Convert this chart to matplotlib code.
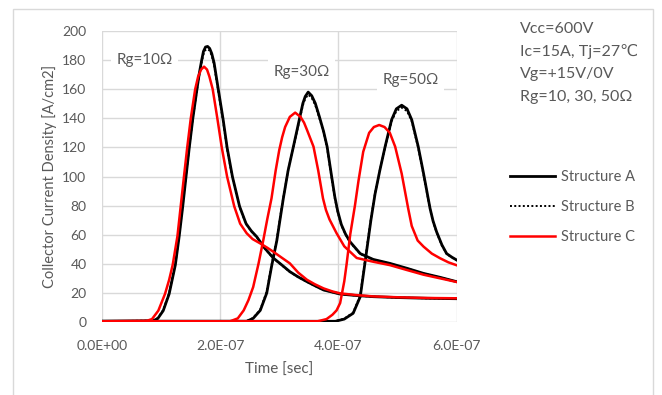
import matplotlib
matplotlib.use("Agg")
import matplotlib.pyplot as plt
from matplotlib.patches import Rectangle

plt.rcParams['font.family'] = ['Lato', 'DejaVu Sans']

# time in units of 1e-7 s, current density in A/cm2
t10_a = [0, 0.87, 0.95, 1.04, 1.14, 1.245, 1.31, 1.37, 1.425, 1.48, 1.54, 1.61, 1.65, 1.69, 1.72,
         1.755, 1.79, 1.825, 1.86, 1.90, 1.97, 2.05, 2.12, 2.21, 2.33, 2.44, 2.53, 2.62, 2.75, 2.9,
         3.05, 3.18, 3.32, 3.47, 3.6, 3.75, 3.9, 4.03, 4.3, 4.59, 5.0, 5.5, 6.0]
i10_a = [0.5, 0.8, 2.5, 7.8, 19.3, 39.3, 59, 79.5, 99.8, 119.8, 139.8, 160, 171, 180, 186,
         189, 189.4, 188, 184.5, 178, 160, 139.8, 119.8, 99.8, 79.5, 67.6, 62.5, 58.6, 51, 44,
         39, 34.6, 31, 27.7, 25, 22, 20.5, 19.2, 18.2, 17.4, 16.8, 16.3, 16]
i10_b = [0.5, 0.9, 2.8, 8.3, 20, 40, 60, 80.5, 100.5, 120.5, 140, 159.5, 170, 178.5, 184,
         187, 187.5, 186.5, 183, 176.5, 158.5, 138.5, 118.8, 99, 79, 67.3, 62.3, 58.4, 50.8, 43.8,
         38.8, 34.4, 30.9, 27.6, 24.9, 22, 20.5, 19.2, 18.2, 17.4, 16.8, 16.3, 16]
t10_c = [0, 0.76, 0.85, 0.957, 1.07, 1.14, 1.20, 1.28, 1.335, 1.39, 1.445, 1.505, 1.58, 1.63, 1.68,
         1.73, 1.78, 1.82, 1.876, 1.955, 2.03, 2.12, 2.24, 2.34, 2.45, 2.55, 2.68, 2.8, 2.9, 3.05,
         3.18, 3.32, 3.47, 3.6, 3.75, 3.9, 4.03, 4.3, 4.59, 5.0, 5.5, 6.0]
i10_c = [0.5, 0.8, 2, 7.8, 19.3, 29, 39.3, 59, 79.5, 99.8, 119.8, 139.8, 160, 168.7, 173.5,
         175.5, 173.5, 168.7, 160, 139.8, 119.8, 99.8, 79.5, 67.6, 61, 57, 54, 51, 48.3, 44,
         40.3, 34, 29, 26, 23.1, 21, 19.7, 18.5, 17.6, 17, 16.5, 16.3]

t30_a = [0, 2.45, 2.56, 2.68, 2.79, 2.87, 2.96, 3.02, 3.07, 3.15, 3.24, 3.35, 3.40, 3.44, 3.49,
         3.55, 3.61, 3.68, 3.75, 3.81, 3.875, 3.94, 3.99, 4.05, 4.12, 4.2, 4.37, 4.59, 4.87, 5.16,
         5.44, 5.72, 6.0]
i30_a = [0.5, 0.5, 2.5, 8, 20, 38, 56, 72, 85, 104, 120.5, 141, 150.3, 155, 158,
         155.5, 150.3, 141, 131, 120.5, 103, 86, 76, 67, 60.5, 55, 47, 43, 40.3, 36.9,
         33.4, 30.7, 27.7]
i30_b = [0.5, 0.6, 2.8, 8.5, 21, 39, 57, 73, 85.5, 104, 120, 140, 149, 153.5, 156.3,
         154, 149, 140, 130.5, 119.5, 102, 85, 75.5, 66.5, 60.2, 54.6, 46.8, 42.8, 40.1, 36.8,
         33.3, 30.6, 27.6]
t30_c = [0, 2.17, 2.3, 2.4, 2.48, 2.56, 2.65, 2.73, 2.8, 2.87, 2.94, 3.0, 3.05, 3.1, 3.18,
         3.27, 3.36, 3.42, 3.47, 3.58, 3.66, 3.74, 3.79, 3.85, 3.97, 4.1, 4.31, 4.59, 4.87, 5.16,
         5.44, 5.72, 6.0]
i30_c = [0.5, 0.5, 2.5, 8, 15, 24, 40, 56, 71, 85, 104, 118, 127, 134, 141,
         143.9, 141, 137, 132, 120.5, 104, 85, 77, 70.5, 61, 52, 44, 41.4, 39.1, 35.7,
         32.5, 30, 27.5]

t50_a = [0, 3.95, 4.1, 4.25, 4.37, 4.48, 4.55, 4.62, 4.70, 4.79, 4.9, 4.98, 5.07, 5.16, 5.24,
         5.35, 5.44, 5.55, 5.6, 5.66, 5.75, 5.83, 5.92, 6.0]
i50_a = [0.5, 0.5, 2, 6, 17.4, 49.5, 70, 88, 104, 120.5, 139, 146.5, 149, 146.5, 139,
         120.5, 102, 78, 69.5, 62, 53, 47, 44.5, 42.6]
i50_b = [0.5, 0.6, 2.3, 6.5, 18.5, 51, 71, 88.5, 104, 120, 138, 145, 147.3, 145, 138,
         119.5, 101, 77.5, 69, 61.5, 52.5, 46.8, 44.3, 42.4]
t50_c = [0, 3.65, 3.8, 3.9, 3.97, 4.03, 4.1, 4.14, 4.2, 4.28, 4.34, 4.42, 4.52, 4.6, 4.69,
         4.78, 4.87, 4.96, 5.07, 5.18, 5.24, 5.34, 5.44, 5.58, 5.72, 5.86, 6.0]
i50_c = [0.5, 0.5, 2, 5, 8, 13, 28, 40, 60, 80, 97, 117, 130, 134, 135.4,
         134, 130, 120.5, 102, 78, 66, 56, 51.8, 47, 43.8, 41, 39]

x_ticks = [0, 2e-7, 4e-7, 6e-7]
x_ticklabels = ["0.0E+00", "2.0E-07", "4.0E-07", "6.0E-07"]
rg_labels = ["Rg=10Ω", "Rg=30Ω", "Rg=50Ω"]
cond_lines = ["Vcc=600V", "Ic=15A, Tj=27℃", "Vg=+15V/0V", "Rg=10, 30, 50Ω"]

gray = "#595959"
grid_c = "#d9d9d9"

fig = plt.figure(figsize=(6.62, 3.95), dpi=100)
fig.patches.append(Rectangle((13 / 662, -0.05), 640 / 662, 1 - 9 / 395 + 0.05,
                             transform=fig.transFigure, fill=False, edgecolor=grid_c, lw=1))
ax = fig.add_axes([101.7 / 662, 1 - 322 / 395, 355 / 662, 291 / 395])

sc = 1e-7
groups = [(t10_a, i10_a, i10_b, t10_c, i10_c),
          (t30_a, i30_a, i30_b, t30_c, i30_c),
          (t50_a, i50_a, i50_b, t50_c, i50_c)]
for k, (ta, ia, ib, tc, ic) in enumerate(groups):
    la = "Structure A" if k == 0 else None
    lb = "Structure B" if k == 0 else None
    lc = "Structure C" if k == 0 else None
    ax.plot([v * sc for v in ta], ia, color="black", lw=2.0, label=la, zorder=3,
            solid_joinstyle="round")
    ax.plot([v * sc for v in ta], ib, color="black", lw=1.4, ls=(0, (1, 1.2)), label=lb, zorder=4)
    ax.plot([v * sc for v in tc], ic, color="#ff0000", lw=1.8, label=lc, zorder=5,
            solid_joinstyle="round")

ax.set_xlim(0, 6e-7)
ax.set_ylim(0, 200)
ax.set_xticks(x_ticks)
ax.set_xticklabels(x_ticklabels)
ax.set_yticks(range(0, 201, 20))
ax.grid(True, color=grid_c, lw=1)
ax.set_axisbelow(True)
for s in ax.spines.values():
    s.set_visible(False)
ax.tick_params(length=0, colors=gray, labelsize=10)
ax.tick_params(axis="x", pad=13)
ax.tick_params(axis="y", pad=11)
ax.set_xlabel("Time [sec]", color=gray, fontsize=11, labelpad=8)
ax.set_ylabel("Collector Current Density [A/cm2]", color=gray, fontsize=10.5, labelpad=4)

box = dict(facecolor="white", edgecolor="none", pad=4)
ax.text(0.25e-7, 180, rg_labels[0], color=gray, fontsize=11, va="center", bbox=box, zorder=2)
ax.text(2.9e-7, 172, rg_labels[1], color=gray, fontsize=11, va="center", bbox=box, zorder=2)
ax.text(4.75e-7, 166, rg_labels[2], color=gray, fontsize=11, va="center", bbox=box, zorder=2)

for j, line in enumerate(cond_lines):
    fig.text(520 / 662, 1 - (29 + 22.7 * j) / 395, line, color=gray, fontsize=11.5,
             va="center", ha="left")

ax.legend(loc="upper left", bbox_to_anchor=(497 / 662, 1 - 157 / 395), bbox_transform=fig.transFigure,
          frameon=False, fontsize=10.5, labelcolor=gray, handlelength=3.1, labelspacing=1.1,
          handletextpad=0.4)

fig.savefig("out.png", dpi=100)
